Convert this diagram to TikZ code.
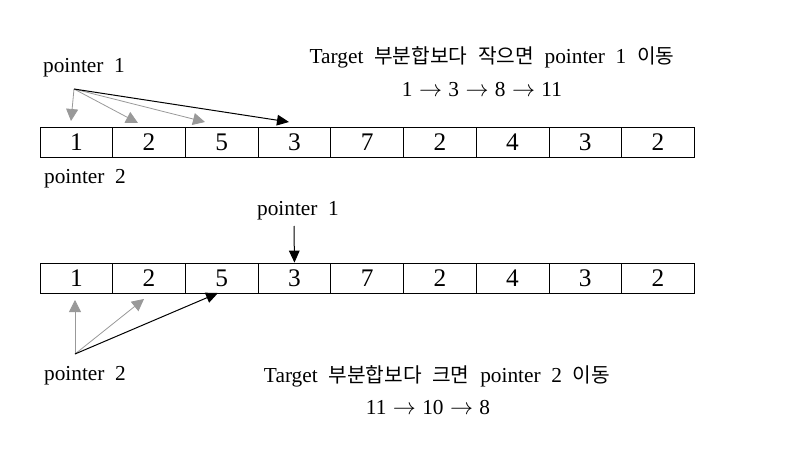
\documentclass[tikz,border=0pt]{standalone}
\usepackage{fontspec}
\setmainfont{Liberation Serif}
\newfontfamily\kr{Noto Sans CJK KR}[Scale=0.95]
\usetikzlibrary{arrows.meta}
\begin{document}
\begin{tikzpicture}[x=0.75pt,y=-0.75pt,
  cell/.style={draw, line width=0.6pt, minimum width=54.525pt, minimum height=22.5pt, inner sep=0pt, font=\fontsize{19}{21}\selectfont},
  lbl/.style={inner sep=0pt, font=\fontsize{16}{18}\selectfont},
  grayarr/.style={draw=gray!80, line width=0.6pt, -{Triangle[length=9pt,width=9pt]}},
  blackarr/.style={draw=black, line width=0.75pt, -{Triangle[length=9pt,width=8pt]}}]
\useasboundingbox (0,0) rectangle (800,467);
% arrays
\foreach \v [count=\i] in {1,2,5,3,7,2,4,3,2} {
  \node[cell] (a\i) at ({40+72.7*(\i-0.5)},142) {\v};
  \node[cell] (b\i) at ({40+72.7*(\i-0.5)},278) {\v};
}
% labels
\node[lbl] (p1a) at (84,68) {pointer\hspace{0.5em}1};
\node[lbl] (p2a) at (85,179) {pointer\hspace{0.5em}2};
\node[lbl] (p1b) at (298,211) {pointer\hspace{0.5em}1};
\node[lbl] (p2b) at (85,376) {pointer\hspace{0.5em}2};
\node[lbl] (t1) at (492,57) {Target\hspace{0.5em}{\kr 부분합보다}\hspace{0.5em}{\kr 작으면}\hspace{0.5em}pointer\hspace{0.5em}1\hspace{0.5em}{\kr 이동}};
\node[lbl] (s1) at (482,90) {1\hspace{0.3em}$\rightarrow$\hspace{0.3em}3\hspace{0.3em}$\rightarrow$\hspace{0.3em}8\hspace{0.3em}$\rightarrow$\hspace{0.3em}11};
\node[lbl] (t2) at (437,376) {Target\hspace{0.5em}{\kr 부분합보다}\hspace{0.5em}{\kr 크면}\hspace{0.5em}pointer\hspace{0.5em}2\hspace{0.5em}{\kr 이동}};
\node[lbl] (s2) at (428,408) {11\hspace{0.3em}$\rightarrow$\hspace{0.3em}10\hspace{0.3em}$\rightarrow$\hspace{0.3em}8};
% top pointer 1 arrows
\coordinate (o1) at (74,89);
\coordinate (e11) at (71,121);
\coordinate (e12) at (138,123);
\coordinate (e13) at (205,122);
\coordinate (e14) at (289,122);
\draw[grayarr] (o1) -- (e11);
\draw[grayarr] (o1) -- (e12);
\draw[grayarr] (o1) -- (e13);
\draw[blackarr] (o1) -- (e14);
% middle pointer 1 arrow
\coordinate (m0) at (294,226);
\draw[blackarr] (m0) -- (b4.north);
% bottom pointer 2 arrows
\coordinate (o2) at (75,354);
\coordinate (e21) at (75,300);
\coordinate (e22) at (144,299);
\coordinate (e23) at (218,293);
\draw[grayarr] (o2) -- (e21);
\draw[grayarr] (o2) -- (e22);
\draw[blackarr] (o2) -- (e23);
\end{tikzpicture}
\end{document}
